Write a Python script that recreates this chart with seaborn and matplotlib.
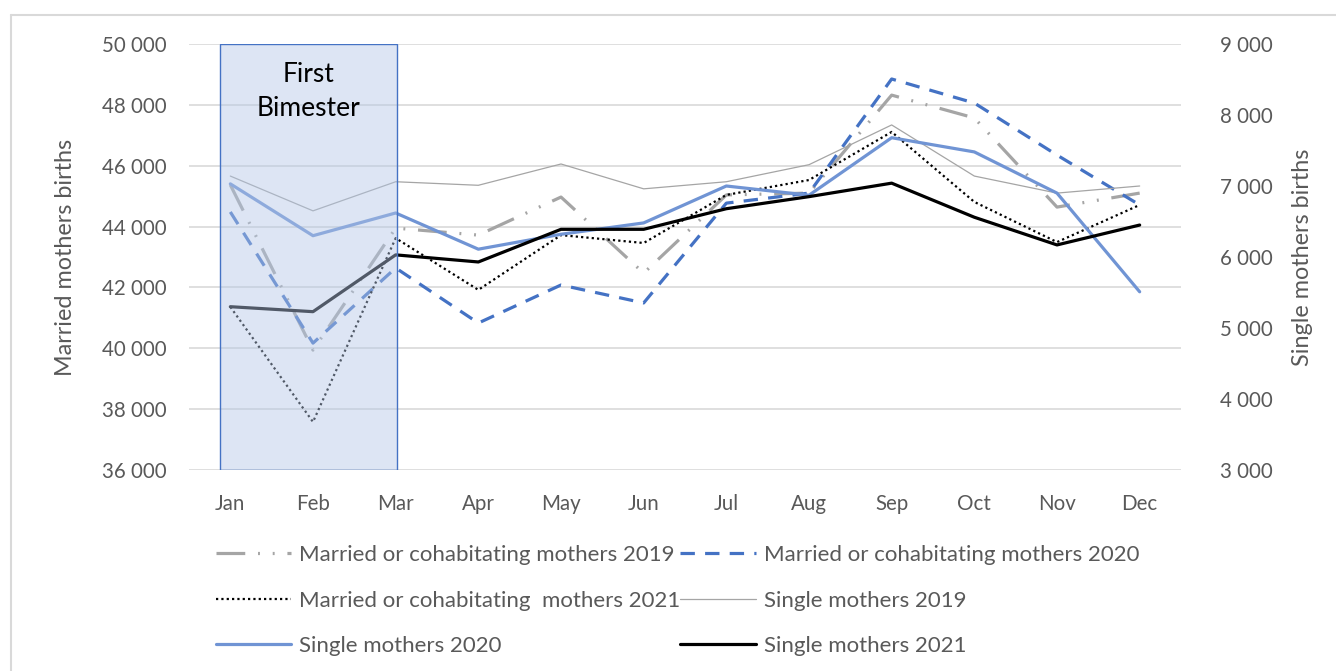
import numpy as np
import matplotlib.pyplot as plt
import seaborn as sns
from matplotlib.patches import Rectangle
from matplotlib.lines import Line2D
from matplotlib.ticker import FuncFormatter

# Data
months = ['Jan', 'Feb', 'Mar', 'Apr', 'May', 'Jun', 'Jul', 'Aug', 'Sep', 'Oct', 'Nov', 'Dec']
married_2019 = [45370, 39940, 43950, 43720, 44970, 42470, 45040, 45100, 48320, 47570, 44640, 45100]
married_2020 = [44480, 40170, 42640, 40830, 42080, 41490, 44770, 45100, 48850, 48060, 46350, 44710]
married_2021 = [41360, 37580, 43620, 41920, 43720, 43460, 45040, 45530, 47110, 44810, 43490, 44710]
single_2019 = [7140, 6650, 7060, 7010, 7310, 6960, 7060, 7300, 7860, 7140, 6900, 7000]
single_2020 = [7030, 6300, 6620, 6110, 6320, 6480, 7000, 6870, 7680, 7480, 6900, 5510]
single_2021 = [5300, 5230, 6030, 5930, 6390, 6390, 6680, 6850, 7040, 6560, 6170, 6450]

left_ticks = [36000, 38000, 40000, 42000, 44000, 46000, 48000, 50000]
right_ticks = [3000, 4000, 5000, 6000, 7000, 8000, 9000]

sns.set_style('white')
plt.rcParams['font.family'] = ['Lato', 'DejaVu Sans']

GRAY_TXT = '#595959'
x = np.arange(len(months))

fig = plt.figure(figsize=(13.36, 6.71), dpi=100)
ax = fig.add_axes([189 / 1336, 1 - 470 / 671, (1181 - 189) / 1336, (470 - 44) / 671])
ax2 = ax.twinx()

# married mothers -> left axis
sns.lineplot(x=x, y=married_2019, ax=ax, color='#A5A5A5', lw=2.3,
             linestyle=(0, (9, 4, 0.6, 4, 0.6, 4)), legend=False,
             label='Married or cohabitating mothers 2019')
sns.lineplot(x=x, y=married_2020, ax=ax, color='#4472C4', lw=2.3,
             linestyle=(0, (4.5, 3.2)), legend=False,
             label='Married or cohabitating mothers 2020')
sns.lineplot(x=x, y=married_2021, ax=ax, color='black', lw=1.6,
             linestyle=(0, (1, 1.4)), legend=False,
             label='Married or cohabitating  mothers 2021')

# single mothers -> right axis
sns.lineplot(x=x, y=single_2019, ax=ax2, color='#A5A5A5', lw=0.9, legend=False,
             label='Single mothers 2019')
sns.lineplot(x=x, y=single_2020, ax=ax2, color='#7094D4', lw=2.3, legend=False,
             label='Single mothers 2020')
sns.lineplot(x=x, y=single_2021, ax=ax2, color='black', lw=2.3, legend=False,
             label='Single mothers 2021')

fmt = FuncFormatter(lambda v, p: f'{int(v):,}'.replace(',', ' '))

ax.set_xlim(-0.5, 11.5)
ax.set_ylim(36000, 50000)
ax.set_yticks(left_ticks)
ax.yaxis.set_major_formatter(fmt)
ax.set_xticks(x)
ax.set_xticklabels(months)
ax.grid(axis='y', color='#D9D9D9', lw=1.2)
ax.grid(axis='x', visible=False)
ax.set_axisbelow(True)
ax.tick_params(axis='y', length=0, pad=16, labelsize=14.8, labelcolor=GRAY_TXT)
ax.tick_params(axis='x', length=0, pad=17.5, labelsize=14.8, labelcolor=GRAY_TXT)
ax.set_ylabel('Married mothers births', fontsize=16.8, color=GRAY_TXT, labelpad=19)

ax2.set_ylim(3000, 9000)
ax2.set_yticks(right_ticks)
ax2.yaxis.set_major_formatter(fmt)
ax2.tick_params(axis='y', length=0, pad=28, labelsize=14.8, labelcolor=GRAY_TXT)
ax2.set_ylabel('Single mothers births', fontsize=16.8, color=GRAY_TXT, labelpad=14)
ax2.grid(False)

for a in (ax, ax2):
    for s in a.spines.values():
        s.set_visible(False)

# shaded "First Bimester" box, drawn over the lines
ax2.add_patch(Rectangle((-0.12, 3000), 2.14, 6000, facecolor=(0.706, 0.78, 0.906, 0.45),
                        edgecolor='#4472C4', lw=1, zorder=5))
ax2.text(0.95, 8324, 'First\nBimester', ha='center', va='center', fontsize=19,
         linespacing=1.45, color='black', zorder=6)

# legend, 3 rows x 2 cols (column-major order)
h1 = ax.get_lines()
h2 = ax2.get_lines()
handles = [h1[0], h1[2], h2[1], h1[1], h2[0], h2[2]]
labels = [h.get_label() for h in handles]
leg = fig.legend(handles, labels, ncol=2, loc='upper left',
                 bbox_to_anchor=(205 / 1336, 1 - 534 / 671), frameon=False,
                 fontsize=16, handlelength=3.38, handletextpad=0.36,
                 columnspacing=0.0, labelspacing=1.15, borderpad=0)
for t in leg.get_texts():
    t.set_color(GRAY_TXT)

# outer chart frame
fig.add_artist(Line2D([11 / 1336, 11 / 1336], [0, 1 - 15 / 671], color='#D9D9D9', lw=1.5))
fig.add_artist(Line2D([11 / 1336, 1], [1 - 15 / 671, 1 - 15 / 671], color='#D9D9D9', lw=1.5))

fig.savefig('out.png', dpi=100)
